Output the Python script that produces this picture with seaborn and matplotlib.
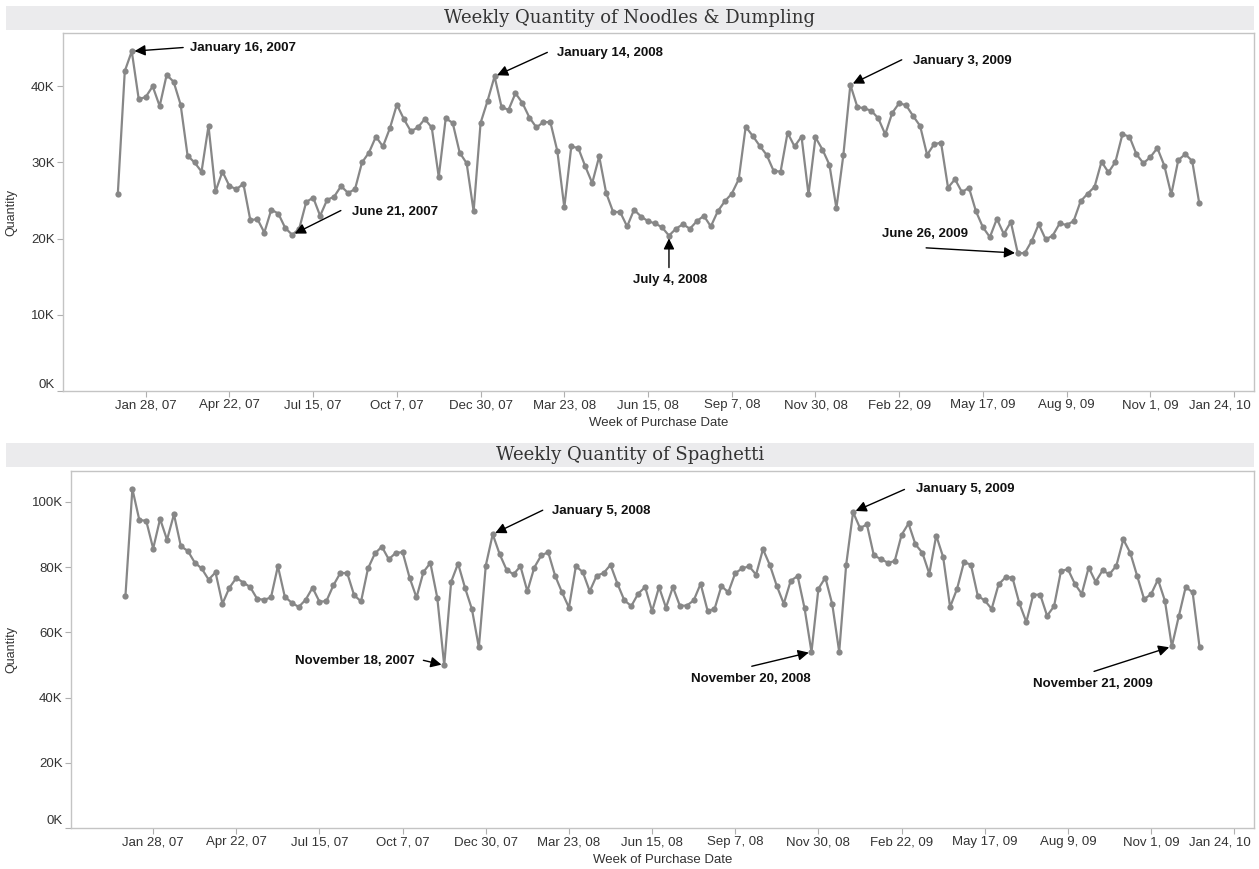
import numpy as np
import pandas as pd
import matplotlib
matplotlib.use('Agg')
import matplotlib.pyplot as plt
from matplotlib.patches import Rectangle
from matplotlib.ticker import FuncFormatter
from matplotlib.transforms import ScaledTranslation
import seaborn as sns

# weekly values (thousands), week starting Dec 31, 2006
noodles_k = [25.9, 42.0, 44.6, 38.3, 38.6, 40.0, 37.4, 41.5, 40.6, 37.6, 30.9, 30.0, 28.8, 34.8, 26.2,
             28.8, 26.9, 26.5, 27.2, 22.4, 22.6, 20.8, 23.8, 23.3, 21.4, 20.5, 21.3, 24.8, 25.4, 23.0,
             25.1, 25.5, 26.9, 26.0, 26.5, 30.0, 31.3, 33.4, 32.1, 34.5, 37.6, 35.7, 34.1, 34.6,
             35.7, 34.6, 28.1, 35.8, 35.2, 31.3, 29.9, 23.6, 35.2, 38.1, 41.3, 37.3, 36.9, 39.1, 37.8,
             35.9, 34.6, 35.3, 35.3, 31.5, 24.1, 32.1, 31.9, 29.5, 27.3, 30.8, 26.0, 23.5, 23.5, 21.6,
             23.8, 22.9, 22.3, 22.0, 21.5, 20.4, 21.3, 21.9, 21.3, 22.3, 23.0, 21.6, 23.6, 24.9, 25.9,
             27.8, 34.7, 33.5, 32.2, 31.0, 28.9, 28.8, 33.9, 32.1, 33.4, 25.8, 33.3,
             31.7, 29.7, 24.0, 31.0, 40.2, 37.3, 37.1, 36.8, 35.8, 33.7, 36.5, 37.8, 37.5, 36.1, 34.8,
             31.0, 32.4, 32.6, 26.7, 27.8, 26.1, 26.7, 23.6, 21.5, 20.2, 22.6, 20.6, 22.2, 18.1, 18.1,
             19.7, 21.9, 19.9, 20.4, 22.0, 21.8, 22.3, 24.9, 25.9, 26.8, 30.1, 28.7, 30.1, 33.7, 33.4,
             31.1, 29.9, 30.7, 31.9, 29.6, 25.8, 30.3, 31.1, 30.2, 24.7]

spaghetti_k = [71.2, 104.0, 94.5, 94.2, 85.7, 94.8, 88.4, 96.2, 86.4, 85.0, 81.4, 79.6, 76.2, 78.4, 68.8,
               73.7, 76.7, 75.3, 73.9, 70.3, 70.0, 70.7, 80.3, 70.9, 69.1, 67.8, 70.0, 73.7, 69.4, 69.6,
               74.4, 78.2, 78.2, 71.4, 69.5, 79.6, 84.2, 86.3, 82.4, 84.4, 84.6, 76.8, 70.7,
               78.5, 81.3, 70.6, 49.9, 75.5, 81.1, 73.7, 67.1, 55.4, 80.5, 90.1, 84.0, 79.2, 77.8, 80.3,
               72.6, 79.9, 83.6, 84.6, 77.4, 72.3, 67.6, 80.3, 78.5, 72.6, 77.4, 78.2, 80.7, 74.9, 69.8,
               68.1, 71.9, 73.9, 66.5, 73.9, 67.6, 73.9, 68.2, 68.2, 69.8, 74.9, 66.7, 67.1, 74.2, 72.3,
               78.2, 79.6, 80.3, 77.7, 85.5, 80.6, 74.2, 68.8, 75.8, 77.3, 67.4, 54.0, 73.4,
               76.8, 68.6, 54.0, 80.6, 96.9, 92.0, 93.1, 83.6, 82.5, 81.4, 81.8, 89.9, 93.4, 87.0, 84.4,
               78.0, 89.7, 83.1, 67.8, 73.3, 81.5, 80.8, 71.2, 69.8, 67.2, 74.7, 76.9, 76.8, 68.9, 63.2,
               71.5, 71.6, 65.1, 68.0, 78.8, 79.4, 74.9, 71.8, 79.9, 75.5, 79.0, 77.8, 80.5, 88.5, 84.4,
               77.3, 70.2, 71.7, 76.2, 69.7, 55.7, 64.9, 73.9, 72.3, 55.5]

weeks = pd.date_range('2006-12-31', periods=len(noodles_k), freq='7D')

tick_labels = ['Jan 28, 07', 'Apr 22, 07', 'Jul 15, 07', 'Oct 7, 07', 'Dec 30, 07', 'Mar 23, 08',
               'Jun 15, 08', 'Sep 7, 08', 'Nov 30, 08', 'Feb 22, 09', 'May 17, 09', 'Aug 9, 09',
               'Nov 1, 09', 'Jan 24, 10']
tick_dates = pd.date_range('2007-01-28', periods=len(tick_labels), freq='84D')

noodle_yticks = [0, 10000, 20000, 30000, 40000]
spag_yticks = [0, 20000, 40000, 60000, 80000, 100000]

# (point index, label, arrow tail offset, text offset, ha)
noodle_notes = [
    (2, 'January 16, 2007', (37, 2.7), (42, 2.7), 'left'),
    (25, 'June 21, 2007', (35, 17.5), (43, 16.8), 'left'),
    (54, 'January 14, 2008', (38, 17.3), (45, 16.6), 'left'),
    (79, 'July 4, 2008', (0, -23), (1, -32), 'center'),
    (105, 'January 3, 2009', (37, 18), (45, 17.3), 'left'),
    (129, 'June 26, 2009', (-66, 3.8), (-98, 13.9), 'left'),
]
spag_notes = [
    (46, 'November 18, 2007', (-15, 3.6), (-21, 2.9), 'right'),
    (53, 'January 5, 2008', (36, 17.3), (43, 16.6), 'left'),
    (99, 'November 20, 2008', (-43, -10.3), (-87, -19.7), 'left'),
    (105, 'January 5, 2009', (37, 16.3), (45, 16.3), 'left'),
    (151, 'November 21, 2009', (-56, -18), (-100, -27.4), 'left'),
]

sns.set_style('white')
plt.rcParams['font.family'] = ['Liberation Sans', 'DejaVu Sans']

W, H = 1259, 869
fig = plt.figure(figsize=(W / 100, H / 100), dpi=100)


def px_box(l, t, r, b):
    return [l / W, 1 - b / H, (r - l) / W, (b - t) / H]


def panel(box, band, title, values, yticks, ylim, notes):
    # title band
    l, t, r, b = band
    fig.add_artist(Rectangle((l / W, 1 - b / H), (r - l) / W, (b - t) / H,
                             transform=fig.transFigure, facecolor='#ebebed', edgecolor='none'))
    fig.text((l + r) / 2 / W, 1 - (t + b) / 2 / H, title, ha='center', va='center',
             family='DejaVu Serif', fontsize=13, color='#333333')

    ax = fig.add_axes(px_box(*box))
    df = pd.DataFrame({'week': weeks, 'qty': np.array(values) * 1000})
    sns.lineplot(data=df, x='week', y='qty', ax=ax, color='#878787', linewidth=1.6,
                 marker='o', markersize=4.5, markeredgewidth=0)
    ax.set_xlim(pd.Timestamp('2006-11-06'), pd.Timestamp('2010-02-13'))
    ax.set_ylim(*ylim)
    ax.set_xticks(tick_dates)
    ax.set_xticklabels(tick_labels)
    ax.set_yticks(yticks)
    ax.yaxis.set_major_formatter(FuncFormatter(lambda v, p: f'{v / 1000:.0f}K'))
    ax.tick_params(axis='both', length=4, width=0.8, color='#b0b0b0', labelsize=9.5,
                   labelcolor='#333333', pad=2, bottom=True, left=True)
    for s in ax.spines.values():
        s.set_color('#c4c4c4')
        s.set_linewidth(1.0)
    ax.set_xlabel('Week of Purchase Date', fontsize=9.5, color='#333333', labelpad=4)
    ax.set_ylabel('Quantity', fontsize=9, color='#333333')
    ax.yaxis.set_label_coords(-(box[0] - 17) / (box[2] - box[0]), 0.5)

    fig.canvas.draw()
    # last date label pulled inside, 0K label lifted like the original
    last = ax.get_xticklabels()[-1]
    last.set_transform(last.get_transform() + ScaledTranslation(-0.14, 0, fig.dpi_scale_trans))
    zero = ax.get_yticklabels()[0]
    zero.set_transform(zero.get_transform() + ScaledTranslation(0, 0.08, fig.dpi_scale_trans))

    for i, label, tail, toff, ha in notes:
        xy = (weeks[i], values[i] * 1000)
        ax.annotate('', xy=xy, xytext=tail, textcoords='offset points',
                    arrowprops=dict(arrowstyle='-|>', color='black', lw=1.0,
                                    mutation_scale=16, shrinkA=0, shrinkB=2))
        ax.annotate(label, xy=xy, xytext=toff, textcoords='offset points',
                    ha=ha, va='center', fontsize=9.5, fontweight='bold', color='#111111')
    return ax


panel((63, 33, 1254, 391), (6, 6, 1254, 30), 'Weekly Quantity of Noodles & Dumpling',
      noodles_k, noodle_yticks, (0, 47000), noodle_notes)
panel((71, 471, 1254, 828), (6, 443, 1254, 467), 'Weekly Quantity of Spaghetti',
      spaghetti_k, spag_yticks, (0, 109500), spag_notes)

fig.savefig('out.png', dpi=100)
